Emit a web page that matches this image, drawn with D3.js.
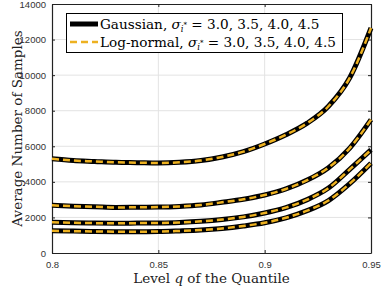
<!DOCTYPE html>
<html><head><meta charset="utf-8">
<script src="https://cdn.jsdelivr.net/npm/d3@7"></script>
<style>body{margin:0;background:#fff}svg{display:block}</style>
</head><body><div id="c"></div>
<script>
const qLevels = [0.80,0.81,0.82,0.83,0.84,0.85,0.86,0.87,0.88,0.89,0.90,0.91,0.92,0.93,0.94,0.95];
const sigma30 = [5300,5200,5150,5100,5080,5060,5100,5200,5400,5700,6130,6650,7300,8250,9850,12650];
const sigma35 = [2680,2630,2600,2560,2570,2580,2620,2700,2850,3020,3260,3600,4100,4800,5900,7500];
const sigma40 = [1730,1700,1680,1670,1680,1690,1720,1780,1880,2030,2250,2550,3000,3650,4700,5800];
const sigma45 = [1250,1230,1210,1200,1200,1205,1240,1290,1380,1520,1700,1980,2380,2950,3900,5050];
const seriesList = [sigma30, sigma35, sigma40, sigma45];
const xTicks = [0.8,0.85,0.9,0.95];
const xTickLabels = ["0.8","0.85","0.9","0.95"];
const yTicks = [0,2000,4000,6000,8000,10000,12000,14000];

const W=382,H=288;
const m={l:52,r:11,t:4,b:35};
const svg=d3.select("#c").append("svg").attr("width",W).attr("height",H);
const x=d3.scaleLinear().domain([0.8,0.95]).range([m.l,W-m.r]);
const y=d3.scaleLinear().domain([0,14000]).range([H-m.b,m.t]);

// grid
svg.append("g").selectAll("line").data(yTicks.slice(1,-1)).join("line")
  .attr("x1",x(0.8)).attr("x2",x(0.95)).attr("y1",d=>y(d)).attr("y2",d=>y(d))
  .attr("stroke","#e3e3e3").attr("stroke-width",1);
svg.append("g").selectAll("line").data(xTicks.slice(1,-1)).join("line")
  .attr("y1",y(0)).attr("y2",y(14000)).attr("x1",d=>x(d)).attr("x2",d=>x(d))
  .attr("stroke","#e3e3e3").attr("stroke-width",1);

// axes
const tickFont='"Liberation Sans", Arial, sans-serif';
const ax=svg.append("g").attr("transform",`translate(0,${y(0)})`)
  .call(d3.axisBottom(x).tickValues(xTicks).tickFormat((d,i)=>xTickLabels[i]).tickSizeInner(-3).tickSizeOuter(0).tickPadding(8));
const ay=svg.append("g").attr("transform",`translate(${x(0.8)},0)`)
  .call(d3.axisLeft(y).tickValues(yTicks).tickFormat(d3.format("d")).tickSizeInner(-3).tickSizeOuter(0).tickPadding(6));
const axT=svg.append("g").attr("transform",`translate(0,${y(14000)})`)
  .call(d3.axisTop(x).tickValues(xTicks).tickFormat("").tickSizeInner(-3).tickSizeOuter(0));
const ayR=svg.append("g").attr("transform",`translate(${x(0.95)},0)`)
  .call(d3.axisRight(y).tickValues(yTicks).tickFormat("").tickSizeInner(-3).tickSizeOuter(0));
[ax,ay,axT,ayR].forEach(g=>{
  g.select(".domain").attr("stroke","#222").attr("stroke-width",1.2);
  g.selectAll(".tick line").attr("stroke","#222");
  g.selectAll("text").attr("font-family",tickFont).attr("font-size",9.5).attr("fill","#333");
});

// lines
const line=d3.line().x((d,i)=>x(qLevels[i])).y(d=>y(d)).curve(d3.curveMonotoneX);
const lg=svg.append("g");
seriesList.forEach(s=>{
  lg.append("path").attr("d",line(s)).attr("fill","none").attr("stroke","#000").attr("stroke-width",5);
});
seriesList.forEach(s=>{
  lg.append("path").attr("d",line(s)).attr("fill","none").attr("stroke","#EDB120").attr("stroke-width",2.5).attr("stroke-dasharray","7,4");
});

// legend
const serif='"DejaVu Serif", serif';
const leg=svg.append("g");
leg.append("rect").attr("x",66.5).attr("y",13.5).attr("width",276).attr("height",39).attr("fill","#fff").attr("stroke","#000").attr("stroke-width",1);
const legItems=[{name:"Gaussian",y:24},{name:"Log-normal",y:42}];
leg.append("line").attr("x1",70).attr("x2",98).attr("y1",24).attr("y2",24).attr("stroke","#000").attr("stroke-width",5);
leg.append("line").attr("x1",70).attr("x2",98).attr("y1",42).attr("y2",42).attr("stroke","#EDB120").attr("stroke-width",2.5).attr("stroke-dasharray","7,4");
legItems.forEach(it=>{
  const t=leg.append("text").attr("x",100).attr("y",it.y+4.5).attr("font-family",serif).attr("font-size",13.6).attr("fill","#000");
  t.append("tspan").text(it.name+", ");
  t.append("tspan").attr("font-style","italic").text("σ");
  t.append("tspan").attr("font-style","italic").attr("font-size",8.5).attr("dy",3).text("i");
  t.append("tspan").attr("font-size",7).attr("dy",-5).text("*");
  t.append("tspan").attr("dy",2).text(" = 3.0, 3.5, 4.0, 4.5");
});

// labels
const xl=svg.append("text").attr("x",(x(0.8)+x(0.95))/2).attr("y",283).attr("text-anchor","middle")
  .attr("font-family",serif).attr("font-size",13.5).attr("fill","#222");
xl.append("tspan").text("Level ");
xl.append("tspan").attr("font-style","italic").text("q");
xl.append("tspan").text(" of the Quantile");
svg.append("text").attr("transform",`translate(22,${(y(0)+y(14000))/2}) rotate(-90)`).attr("text-anchor","middle")
  .attr("font-family",serif).attr("font-size",13.5).attr("fill","#222").text("Average Number of Samples");
</script></body></html>
